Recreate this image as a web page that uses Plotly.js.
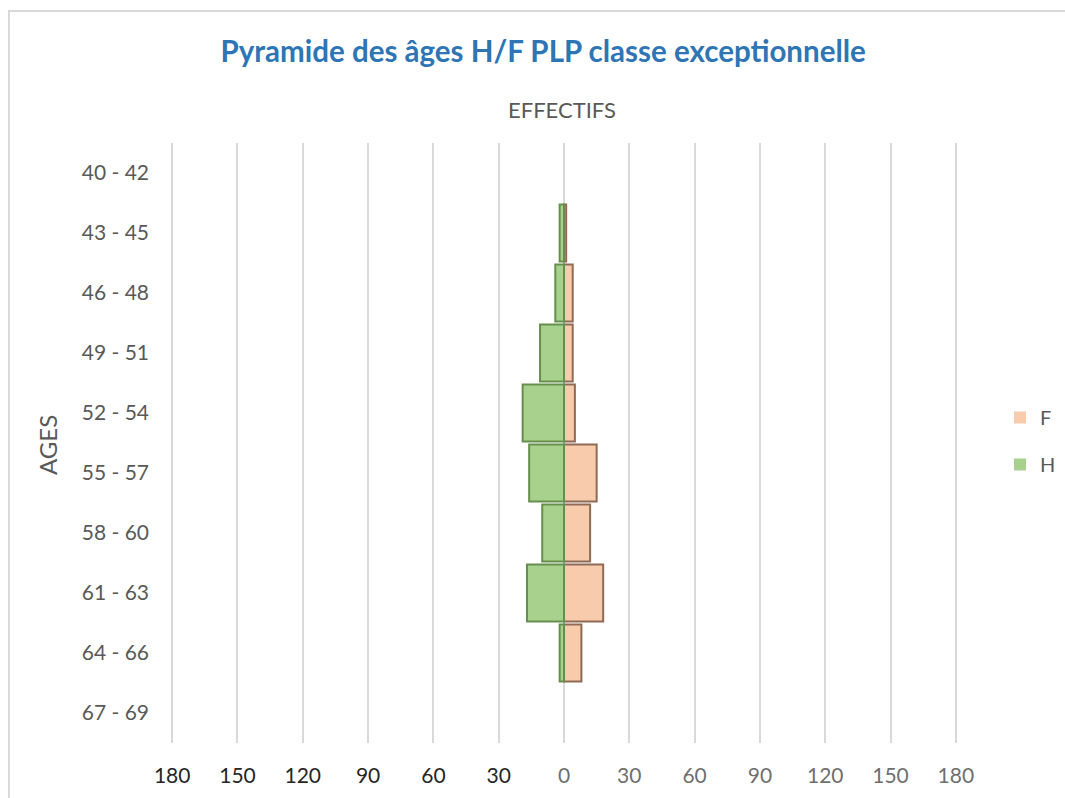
<!DOCTYPE html>
<html>
<head>
<meta charset="utf-8">
<script src="https://cdn.plot.ly/plotly-3.0.1.min.js"></script>
<style>
  html, body { margin: 0; padding: 0; background: #ffffff; }
  #chart { width: 1065px; height: 798px; }
  #frame { position: absolute; left: 8px; top: 10px; width: 1070px; height: 800px;
           border-top: 2px solid #d9d9d9; border-left: 2px solid #d9d9d9; pointer-events: none; }
</style>
</head>
<body>
<div id="chart"></div>
<div id="frame"></div>
<script>
// Age classes (top to bottom)
const ageClasses = ["40 - 42", "43 - 45", "46 - 48", "49 - 51", "52 - 54",
                    "55 - 57", "58 - 60", "61 - 63", "64 - 66", "67 - 69"];
// Headcounts
const hommes = [0, 2, 4, 11, 19, 16, 10, 17, 2, 0];
const femmes = [0, 1, 4, 4, 5, 15, 12, 18, 8, 0];
// Axis ticks
const tickValues = [-180, -150, -120, -90, -60, -30, 0, 30, 60, 90, 120, 150, 180];
const tickLabels = ["180", "150", "120", "90", "60", "30", "0", "30", "60", "90", "120", "150", "180"];

const fontFamily = "Lato, 'Open Sans', sans-serif";

const traceF = {
  type: "bar", orientation: "h", name: "F",
  y: ageClasses, x: femmes,
  marker: { color: "#f8cbad",
            line: { color: "#8f6b56", width: femmes.map(v => v > 0 ? 2 : 0) } },
  hovertemplate: "%{y}: %{x}<extra>F</extra>",
  legendgroup: "F"
};
const traceH = {
  type: "bar", orientation: "h", name: "H",
  y: ageClasses, x: hommes.map(v => -v),
  customdata: hommes,
  marker: { color: "#a9d18e",
            line: { color: "#668f4d", width: hommes.map(v => v > 0 ? 2 : 0) } },
  hovertemplate: "%{y}: %{customdata}<extra>H</extra>",
  legendgroup: "H"
};

const layout = {
  width: 1065, height: 798,
  paper_bgcolor: "#ffffff", plot_bgcolor: "#ffffff",
  margin: { l: 170, r: 107, t: 143, b: 55, autoexpand: false },
  barmode: "relative",
  bargap: 0.05,
  showlegend: true,
  font: { family: fontFamily, color: "#595959", size: 20 },
  title: {
    text: "<b>Pyramide des âges H/F PLP classe exceptionnelle</b>",
    font: { family: fontFamily, size: 29.5, color: "#2e75b6" },
    x: 0.51, xanchor: "center", y: 1 - 52 / 798, yanchor: "middle"
  },
  xaxis: {
    range: [-181, 181],
    tickmode: "array",
    tickvals: tickValues,
    ticktext: tickLabels.map((t, i) => tickValues[i] < 0
      ? '<span style="color:#262626">' + t + '</span>'
      : '<span style="color:#6f6f6f">' + t + '</span>'),
    showgrid: true, gridcolor: "#d9d9d9", gridwidth: 2,
    zeroline: false, showline: false,
    ticks: "", ticklabelstandoff: 18,
    tickfont: { family: fontFamily, size: 21 },
    fixedrange: true
  },
  yaxis: {
    type: "category",
    autorange: "reversed",
    showgrid: false, zeroline: false, showline: false,
    ticks: "", ticklabelstandoff: 20,
    tickfont: { family: fontFamily, size: 21, color: "#595959" },
    fixedrange: true
  },
  legend: {
    x: (1000 - 170) / 788, xanchor: "left", y: 0.575, yanchor: "top",
    traceorder: "grouped", tracegroupgap: 18,
    font: { family: fontFamily, size: 20, color: "#595959" },
    itemwidth: 30, bgcolor: "rgba(0,0,0,0)"
  },
  annotations: [
    { text: "EFFECTIFS", xref: "paper", yref: "paper",
      x: (562 - 170) / 788, y: (743 - 109) / 600, xanchor: "center", yanchor: "middle",
      showarrow: false, font: { family: fontFamily, size: 22, color: "#595959" } },
    { text: "AGES", xref: "paper", yref: "paper",
      x: (47 - 170) / 788, y: (743 - 445) / 600, xanchor: "center", yanchor: "middle",
      textangle: -90, showarrow: false,
      font: { family: fontFamily, size: 24, color: "#595959" } }
  ]
};

Plotly.newPlot("chart", [traceF, traceH], layout, { displayModeBar: false, responsive: false });
</script>
</body>
</html>
